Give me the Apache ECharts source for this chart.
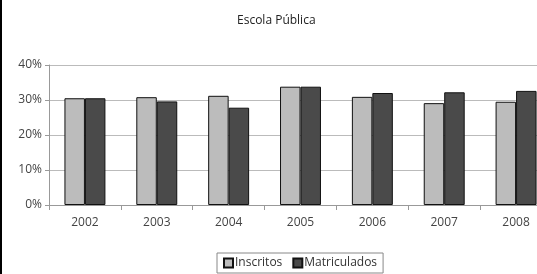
<!DOCTYPE html>
<html>
<head>
<meta charset="utf-8">
<script src="https://cdn.jsdelivr.net/npm/echarts@6/dist/echarts.min.js"></script>
<style>
  html, body { margin: 0; padding: 0; background: #fff; overflow: hidden; }
  #chart { width: 552px; height: 274px; }
</style>
</head>
<body>
<div id="chart"></div>
<script>
// data
const years = ["2002", "2003", "2004", "2005", "2006", "2007", "2008"];
const inscritos = [30.5, 30.8, 31.2, 33.8, 30.9, 29.1, 29.5];
const matriculados = [30.5, 29.6, 27.8, 33.8, 32.0, 32.2, 32.6];
const yTicks = [0, 10, 20, 30, 40];

const font = "'Open Sans', 'Noto Sans', sans-serif";
// chart is a bit wider than the window: the reference crops the right end of the plot
const chart = echarts.init(document.getElementById("chart"));

const option = {
  animation: false,
  title: {
    text: "Escola Pública",
    left: 232,
    top: 10,
    textStyle: { fontFamily: font, fontSize: 12, fontWeight: "normal", color: "#222" },
  },
  graphic: [
    { type: "rect", left: 0, top: 0, shape: { width: 2, height: 274 }, style: { fill: "#000" } },
  ],
  legend: {
    data: ["Inscritos", "Matriculados"],
    bottom: 1,
    left: 217,
    icon: "rect",
    itemWidth: 9,
    itemHeight: 9,
    itemGap: 10,
    padding: [4, 6, 4, 6],
    borderColor: "#888",
    borderWidth: 1,
    borderRadius: 0,
    textStyle: { fontFamily: font, fontSize: 12, color: "#333", padding: [0, 0, 0, -3] },
  },
  grid: { left: 49, right: 0, top: 65, bottom: 69, containLabel: false },
  xAxis: {
    type: "category",
    data: years,
    axisLine: { lineStyle: { color: "#999" } },
    axisTick: { show: true, length: 5, lineStyle: { color: "#999" } },
    axisLabel: { fontFamily: font, fontSize: 12, color: "#444", margin: 12 },
  },
  yAxis: {
    type: "value",
    min: yTicks[0],
    max: yTicks[yTicks.length - 1],
    interval: 10,
    axisLine: { show: true, lineStyle: { color: "#999" } },
    axisTick: { show: true, length: 4, lineStyle: { color: "#999" } },
    axisLabel: { fontFamily: font, fontSize: 12, color: "#444", margin: 7, formatter: "{value}%" },
    splitLine: { lineStyle: { color: "#bbb" } },
  },
  series: [
    {
      name: "Inscritos",
      type: "bar",
      data: inscritos,
      barGap: "0%",
      barCategoryGap: "43%",
      itemStyle: { color: "#bcbcbc", borderColor: "#111", borderWidth: 1 },
    },
    {
      name: "Matriculados",
      type: "bar",
      data: matriculados,
      itemStyle: { color: "#4a4a4a", borderColor: "#111", borderWidth: 1 },
    },
  ],
};
chart.setOption(option);
</script>
</body>
</html>
